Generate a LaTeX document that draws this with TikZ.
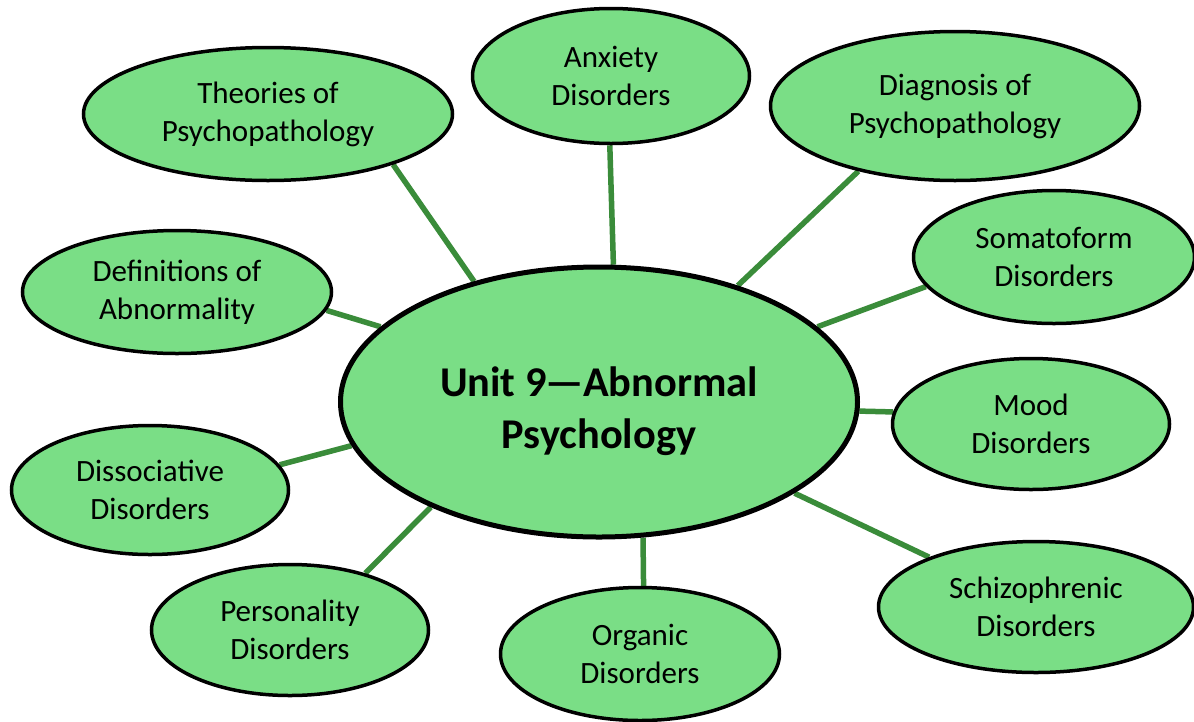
\documentclass[tikz,border=0pt]{standalone}
\usepackage{fontspec}
\setmainfont{Carlito}
\usetikzlibrary{shapes.geometric,backgrounds}
\definecolor{bubble}{RGB}{122,222,134}
\definecolor{linkgreen}{RGB}{58,140,58}
\tikzset{
  leaf/.style={ellipse, draw=black, line width=3.5pt, fill=bubble, inner sep=0pt,
    align=center, font=\fontsize{31}{38}\selectfont},
  hub/.style={ellipse, draw=black, line width=5pt, fill=bubble, inner sep=0pt},
  hubtext/.style={align=center, yshift=-9pt, font=\fontsize{42.4}{52}\selectfont\bfseries},
  link/.style={draw=linkgreen, line width=5.5pt}
}
\begin{document}
\begin{tikzpicture}[x=1pt,y=-1pt]
\useasboundingbox (0,0) rectangle (1194,721);
\node[hub, minimum width=517pt, minimum height=270pt,
  label={[hubtext]center:Unit 9{\kern-1pt}—{\kern-1pt}Abnormal\\Psychology}] (c) at (599,402) {};
\node[leaf, minimum width=369pt, minimum height=133pt] (theo) at (268,114) {Theories of\\Psychopathology};
\node[leaf, minimum width=277pt, minimum height=135pt] (anx) at (611,76) {Anxiety\\Disorders};
\node[leaf, minimum width=369pt, minimum height=149pt] (diag) at (955,106) {Diagnosis of\\Psychopathology};
\node[leaf, minimum width=281pt, minimum height=133pt] (soma) at (1054,257) {Somatoform\\Disorders};
\node[leaf, minimum width=309pt, minimum height=123pt] (defn) at (177,292) {Definitions of\\Abnormality};
\node[leaf, minimum width=277pt, minimum height=131pt] (mood) at (1031,424) {Mood\\Disorders};
\node[leaf, minimum width=277pt, minimum height=129pt] (diss) at (150,490) {Dissociative\\Disorders};
\node[leaf, minimum width=315pt, minimum height=131pt] (schiz) at (1036,607) {Schizophrenic\\Disorders};
\node[leaf, minimum width=277pt, minimum height=131pt] (pers) at (290,630) {Personality\\Disorders};
\node[leaf, minimum width=279pt, minimum height=133pt] (org) at (640,654) {Organic\\Disorders};
\begin{pgfonlayer}{background}
\draw[link] (theo.-22.7) -- (c.136.9);
\draw[link] (anx.-91) -- (c.84.6);
\draw[link] (diag.-146.6) -- (c.40.3);
\draw[link] (soma.-167.3) -- (c.19.4);
\draw[link] (defn.-7.5) -- (c.161.5);
\draw[link] (mood.175.9) -- (c.-2.4);
\draw[link] (diss.11.9) -- (c.190.2);
\draw[link] (pers.37) -- (c.212.6);
\draw[link] (org.87.5) -- (c.-72.3);
\draw[link] (schiz.155.8) -- (c.-25.4);
\end{pgfonlayer}
\end{tikzpicture}
\end{document}
